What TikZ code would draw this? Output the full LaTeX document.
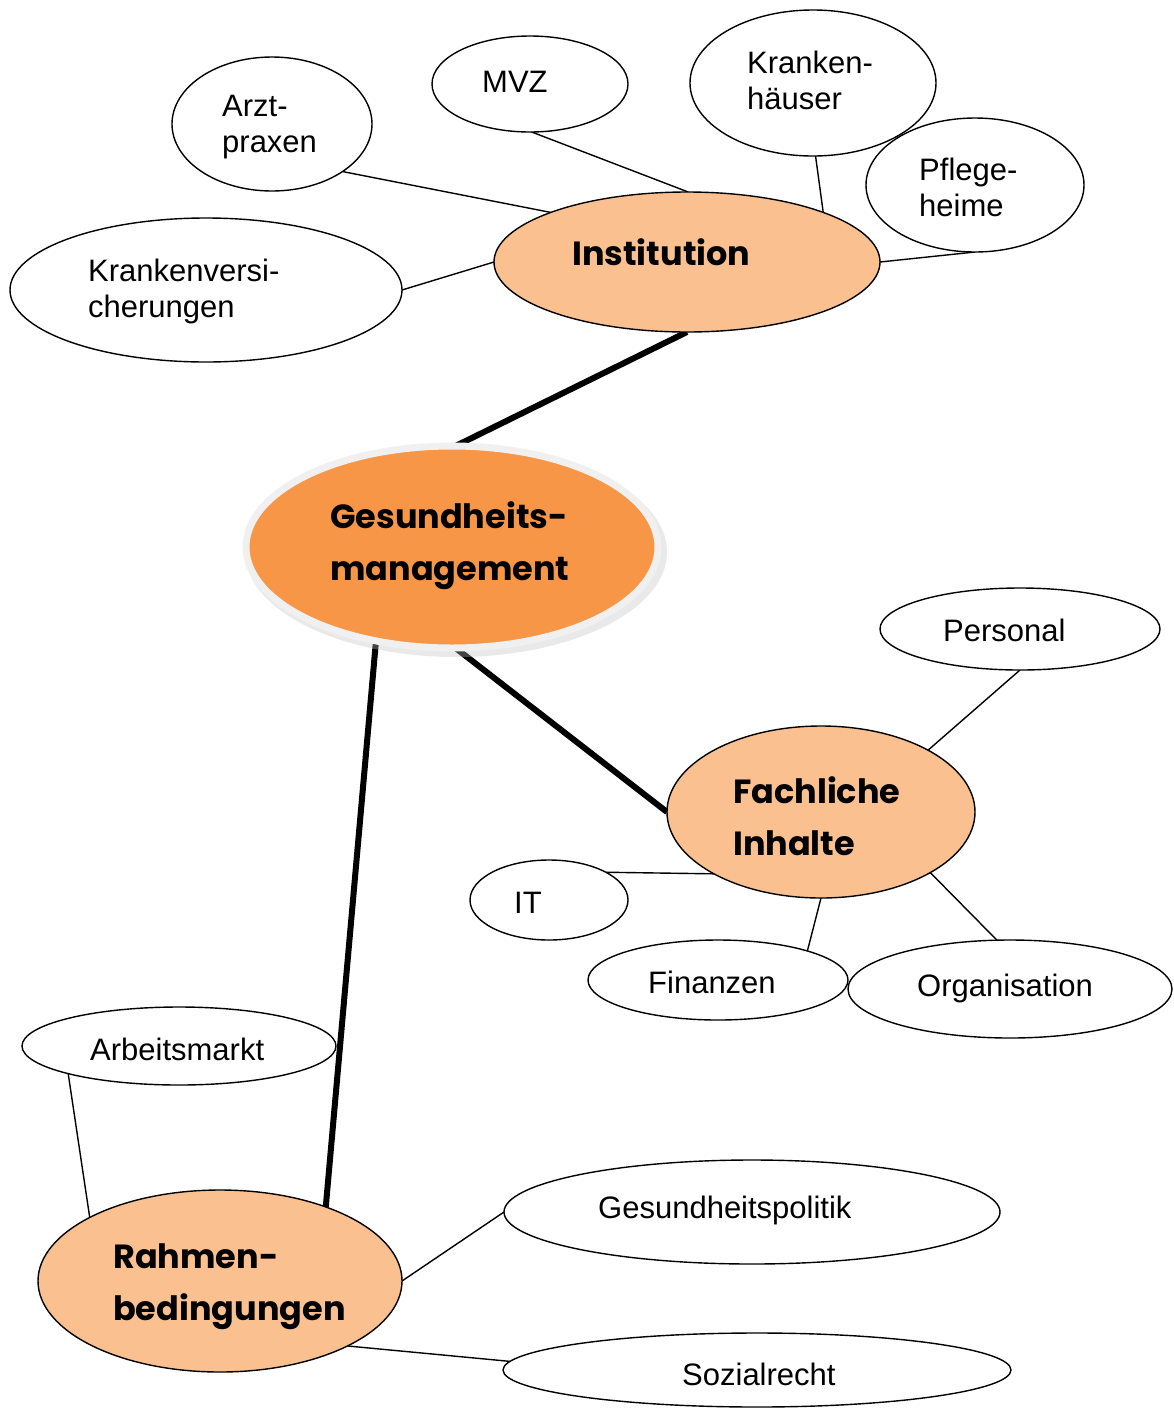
\documentclass[tikz,border=0pt]{standalone}
\usepackage{fontspec}
\setmainfont{Liberation Sans}
\newfontfamily\comicfont{Poppins}
\usetikzlibrary{shapes.geometric}
\definecolor{peach}{HTML}{FAC090}
\definecolor{orangemain}{HTML}{F79646}
\pgfdeclarelayer{bg}
\pgfsetlayers{bg,main}
\begin{document}
\begin{tikzpicture}[x=1pt,y=-1pt,
  bub/.style={ellipse,draw=black,line width=1.4pt,fill=white,inner sep=0pt,outer sep=0pt},
  mainbub/.style={ellipse,draw=black,line width=1.4pt,fill=peach,inner sep=0pt,outer sep=0pt},
  lbl/.style={anchor=base west,inner sep=0pt,align=left,font=\fontsize{31}{35.5}\selectfont},
  blbl/.style={anchor=base west,inner sep=0pt,align=left,font=\comicfont\bfseries\fontsize{33.5}{51.5}\selectfont},
  thin/.style={line width=1.4pt},
  thick/.style={line width=6pt}]
\useasboundingbox (0,0) rectangle (1174,1409);
% outer ellipses
\node[bub,minimum width=200,minimum height=134] (arzt) at (272,124) {};
\node[bub,minimum width=196,minimum height=96] (mvz) at (530,84) {};
\node[bub,minimum width=246,minimum height=146] (khaus) at (813,83) {};
\node[bub,minimum width=218,minimum height=134] (pflege) at (975,185) {};
\node[bub,minimum width=392,minimum height=144] (kvers) at (206,290) {};
\node[mainbub,minimum width=386,minimum height=140] (inst) at (687,262) {};
% central ellipse with shadow
\fill[black!25,opacity=0.35] (456,552) ellipse [x radius=211,y radius=105];
\node[ellipse,draw=black!6,line width=7pt,fill=orangemain,inner sep=0pt,outer sep=0pt,minimum width=412,minimum height=202] (gm) at (452,547) {};
\node[bub,minimum width=280,minimum height=82] (pers) at (1020,629) {};
\node[mainbub,minimum width=308,minimum height=172] (fach) at (821,812) {};
\node[bub,minimum width=158,minimum height=80] (it) at (549,900) {};
\node[bub,minimum width=260,minimum height=80] (fin) at (718,980) {};
\node[bub,minimum width=324,minimum height=98] (org) at (1010,989) {};
\node[bub,minimum width=314,minimum height=78] (arb) at (179,1046) {};
\node[mainbub,minimum width=364,minimum height=182] (rahmen) at (220,1281) {};
\node[bub,minimum width=496,minimum height=104] (gpol) at (752,1212) {};
\node[bub,minimum width=508,minimum height=74] (sozr) at (757,1370) {};
% labels (base anchor = baseline of the last line)
\node[lbl] (tarzt) at (222,152) {Arzt-\\praxen};
\node[lbl] (tmvz) at (482,92) {MVZ};
\node[lbl] (tkhaus) at (747,109) {Kranken-\\häuser};
\node[lbl] (tpflege) at (919,216) {Pflege-\\heime};
\node[lbl] (tkvers) at (88,317) {Krankenversi-\\cherungen};
\node[blbl] (tinst) at (572,265) {Institution};
\node[blbl] (tgm) at (330,580) {Gesundheits-\\management};
\node[lbl] (tpers) at (943,641) {Personal};
\node[blbl] (tfach) at (733,855) {Fachliche\\Inhalte};
\node[lbl] (tit) at (514,913) {IT};
\node[lbl] (tfin) at (648,993) {Finanzen};
\node[lbl] (torg) at (917,996) {Organisation};
\node[lbl] (tarb) at (90,1060) {Arbeitsmarkt};
\node[blbl] (trahmen) at (113,1320) {Rahmen-\\bedingungen};
\node[lbl] (tgpol) at (598,1218) {Gesundheitspolitik};
\node[lbl] (tsozr) at (682,1385) {Sozialrecht};
% connectors
\begin{pgfonlayer}{bg}
\draw[thin] (arzt.-34) -- (inst.160);
\draw[thin] (mvz.-88) -- (inst.89);
\draw[thin] (khaus.-88) -- (inst.20);
\draw[thin] (pflege.-90) -- (inst.0);
\draw[thin] (kvers.0) -- (inst.180);
\draw[thick] (inst.-90) -- (gm.88);
\draw[thick] (gm.-88) -- (fach.180);
\draw[thick] (gm.-129) -- (rahmen.35);
\draw[thin] (pers.-90) -- (fach.30);
\draw[thin] (it.26) -- (fach.-150);
\draw[thin] (fin.18) -- (fach.-90);
\draw[thin] (org.105) -- (fach.-29);
\draw[thin] (arb.-166) -- (rahmen.154);
\draw[thin] (gpol.180) -- (rahmen.0);
\draw[thin] (sozr.178) -- (rahmen.-27);
\end{pgfonlayer}
\end{tikzpicture}
\end{document}
